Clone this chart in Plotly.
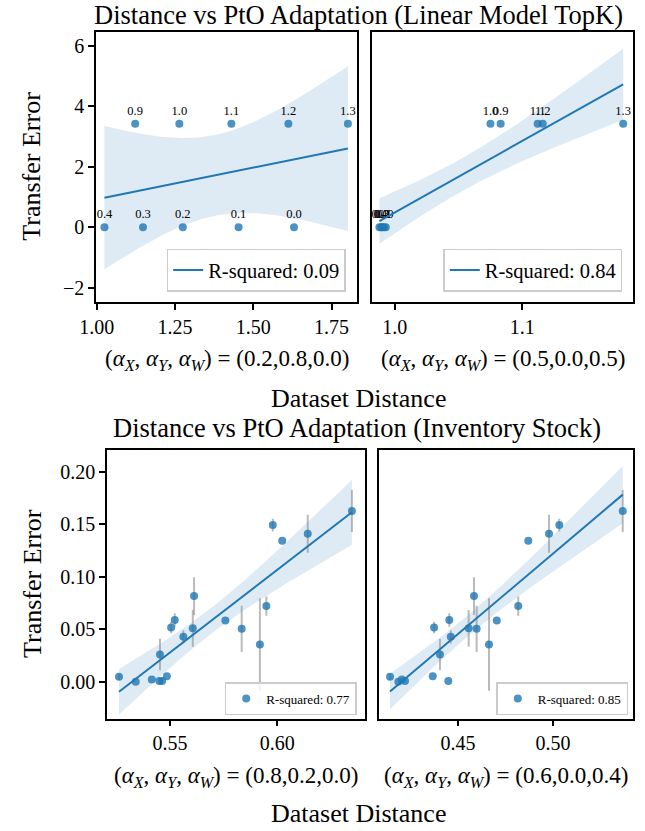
import numpy as np
import plotly.graph_objects as go

# --- Data: top row (Linear Model TopK) ---
topk_labels = ["0.4", "0.3", "0.2", "0.1", "0.0", "0.9", "1.0", "1.1", "1.2", "1.3"]
topk_error = [0, 0, 0, 0, 0, 3.42, 3.42, 3.42, 3.42, 3.42]
topk_dist_a = [1.025, 1.148, 1.275, 1.453, 1.630, 1.123, 1.264, 1.430, 1.612, 1.802]
topk_dist_b = [0.988, 0.9895, 0.990, 0.9915, 0.993, 1.083, 1.075, 1.112, 1.116, 1.179]
topk_r2 = ["R-squared: 0.09", "R-squared: 0.84"]

# --- Data: bottom row (Inventory Stock) ---
stock_error = [0.0048, 0.0, 0.0023, 0.0007, 0.0007, 0.0054, 0.0261, 0.0518, 0.0588, 0.0429,
               0.0509, 0.0816, 0.0585, 0.0505, 0.0356, 0.0721, 0.1492, 0.1343, 0.1410, 0.1626]
stock_ci = [0.003, 0, 0, 0, 0, 0, 0.015, 0.0055, 0.0064, 0.0063,
            0.0175, 0.018, 0, 0.022, 0.044, 0.0092, 0.006, 0, 0.018, 0.020]
stock_dist_a = [0.5262, 0.5340, 0.5415, 0.5450, 0.5463, 0.5485, 0.5453, 0.5505, 0.5522, 0.5562,
                0.5606, 0.5612, 0.5758, 0.5834, 0.5919, 0.5949, 0.5979, 0.6023, 0.6142, 0.6348]
stock_dist_b = [0.4142, 0.4186, 0.4204, 0.4221, 0.4449, 0.4367, 0.4405, 0.4374, 0.4454, 0.4462,
                0.4556, 0.4584, 0.4704, 0.4598, 0.4663, 0.4817, 0.5033, 0.4870, 0.4979, 0.5367]
stock_r2 = ["R-squared: 0.77", "R-squared: 0.85"]

alpha_labels = ["(0.2,0.8,0.0)", "(0.5,0.0,0.5)", "(0.8,0.2,0.0)", "(0.6,0.0,0.4)"]

W, H = 645, 831
FONT = "Liberation Serif, Times New Roman, serif"
BLUE = "#1f77b4"


def fit_band(x, y, t):
    # OLS fit with 95% confidence band for the mean
    x = np.asarray(x, float)
    y = np.asarray(y, float)
    slope, icpt = np.polyfit(x, y, 1)
    grid = np.linspace(x.min(), x.max(), 100)
    fit = icpt + slope * grid
    resid = y - (icpt + slope * x)
    n = len(x)
    s = np.sqrt(resid @ resid / (n - 2))
    sxx = ((x - x.mean()) ** 2).sum()
    half = t * s * np.sqrt(1 / n + (grid - x.mean()) ** 2 / sxx)
    return grid, fit, fit - half, fit + half


def px_x(v):
    return v / W


def px_y(v):
    return 1 - v / H


# panel boxes in pixels: (left, right, top, bottom)
boxes = [(96, 357, 31.7, 301.7), (372, 633, 31.7, 301.7),
         (107, 365, 450, 718.5), (379, 633, 450, 718.5)]
xranges = [[0.998, 1.831], [0.9822, 1.1867], [0.5206, 0.6409], [0.4084, 0.5421]]
yranges = [[-2.46, 6.46], [-2.46, 6.46], [-0.0349, 0.2207], [-0.0349, 0.2207]]
dticks = [0.25, 0.1, 0.05, 0.05]
tfmts = [".2f", ".1f", ".2f", ".2f"]

fig = go.Figure()

panels = [
    (topk_dist_a, topk_error, None, topk_r2[0], 2.306),
    (topk_dist_b, topk_error, None, topk_r2[1], 2.306),
    (stock_dist_a, stock_error, stock_ci, stock_r2[0], 2.101),
    (stock_dist_b, stock_error, stock_ci, stock_r2[1], 2.101),
]

for i, (xs, ys, ci, r2, t) in enumerate(panels):
    ax = "" if i == 0 else str(i + 1)
    xa, ya = "x" + ax, "y" + ax
    leg = "legend" + ax
    grid, fit, lo, hi = fit_band(xs, ys, t)
    fig.add_trace(go.Scatter(
        x=np.concatenate([grid, grid[::-1]]), y=np.concatenate([hi, lo[::-1]]),
        fill="toself", fillcolor="rgba(31,119,180,0.15)", line=dict(width=0),
        mode="lines", hoverinfo="skip", showlegend=False, xaxis=xa, yaxis=ya))
    is_top = ci is None
    if is_top:
        fig.add_trace(go.Scatter(
            x=xs, y=ys, mode="markers+text", text=topk_labels, textposition="top center",
            textfont=dict(family=FONT, size=12.5, color="black"),
            marker=dict(color="rgba(31,119,180,0.8)", size=8),
            showlegend=False, cliponaxis=False, xaxis=xa, yaxis=ya))
    else:
        fig.add_trace(go.Scatter(
            x=xs, y=ys, mode="markers", name=r2,
            marker=dict(color="rgba(31,119,180,0.8)", size=8),
            error_y=dict(type="data", array=ci, color="rgba(140,140,140,0.6)",
                         thickness=2, width=0),
            showlegend=True, legend=leg, xaxis=xa, yaxis=ya))
    fig.add_trace(go.Scatter(
        x=grid, y=fit, mode="lines", name=r2, line=dict(color=BLUE, width=2),
        showlegend=is_top, legend=leg, xaxis=xa, yaxis=ya))

layout = {}
for i, (l, r, tp, bt) in enumerate(boxes):
    ax = "" if i == 0 else str(i + 1)
    layout["xaxis" + ax] = dict(
        domain=[px_x(l), px_x(r)], anchor="y" + ax, range=xranges[i],
        dtick=dticks[i], tick0=0, tickformat=tfmts[i],
        showline=True, mirror=True, linecolor="black", linewidth=1.6,
        ticks="outside", ticklen=6, tickwidth=1.6, tickcolor="black",
        showgrid=False, zeroline=False,
        tickfont=dict(family=FONT, size=20, color="black"))
    left_col = i in (0, 2)
    layout["yaxis" + ax] = dict(
        domain=[px_y(bt), px_y(tp)], anchor="x" + ax, range=yranges[i],
        dtick=2 if i < 2 else 0.05, tick0=0, tickformat="" if i < 2 else ".2f",
        showticklabels=left_col, ticks="outside" if left_col else "",
        showline=True, mirror=True, linecolor="black", linewidth=1.6,
        ticklen=6, tickwidth=1.6, tickcolor="black",
        showgrid=False, zeroline=False,
        tickfont=dict(family=FONT, size=20, color="black"))

# legends (lower right of each panel)
leg_pos = [(345.7, 291.7, 20.5), (622.3, 291.7, 20.5), (356.7, 715, 13), (628.3, 715, 13)]
for i, (lx, ly, fs) in enumerate(leg_pos):
    ax = "" if i == 0 else str(i + 1)
    layout["legend" + ax] = dict(
        x=px_x(lx), y=px_y(ly), xanchor="right", yanchor="bottom",
        bgcolor="rgba(255,255,255,0.8)", bordercolor="#cccccc", borderwidth=1.5,
        font=dict(family=FONT, size=fs, color="black"),
        itemwidth=30)

annos = []
# titles
annos.append(dict(text="Distance vs PtO Adaptation (Linear Model TopK)", x=px_x(358), y=px_y(15)))
annos.append(dict(text="Distance vs PtO Adaptation (Inventory Stock)", x=px_x(357), y=px_y(428)))
for a in annos:
    a.update(font=dict(family=FONT, size=26.5, color="black"))
# shared labels
for yy in (398, 813):
    annos.append(dict(text="Dataset Distance", x=px_x(358), y=px_y(yy),
                      font=dict(family=FONT, size=26, color="black")))
for yy in (166.7, 584):
    annos.append(dict(text="Transfer Error", x=px_x(32), y=px_y(yy), textangle=-90,
                      font=dict(family=FONT, size=26, color="black")))
# per-panel alpha labels
alpha_y = [360, 360, 777, 777]
for i, (l, r, tp, bt) in enumerate(boxes):
    annos.append(dict(
        text="(<i>α</i><sub><i>X</i></sub>, <i>α</i><sub><i>Y</i></sub>, "
             "<i>α</i><sub><i>W</i></sub>) = " + alpha_labels[i],
        x=px_x((l + r) / 2), y=px_y(alpha_y[i]),
        font=dict(family=FONT, size=23, color="black")))
for a in annos:
    a.update(xref="paper", yref="paper", showarrow=False, xanchor="center", yanchor="middle")

fig.update_layout(
    width=W, height=H, margin=dict(l=0, r=0, t=0, b=0, autoexpand=False),
    paper_bgcolor="white", plot_bgcolor="white",
    font=dict(family=FONT, color="black"),
    annotations=annos, **layout)

# drop the page's default body margin so the figure sits at the window corner
fig.write_html("out.html", config={"displayModeBar": False},
               post_script="document.body.style.margin = '0px';")
